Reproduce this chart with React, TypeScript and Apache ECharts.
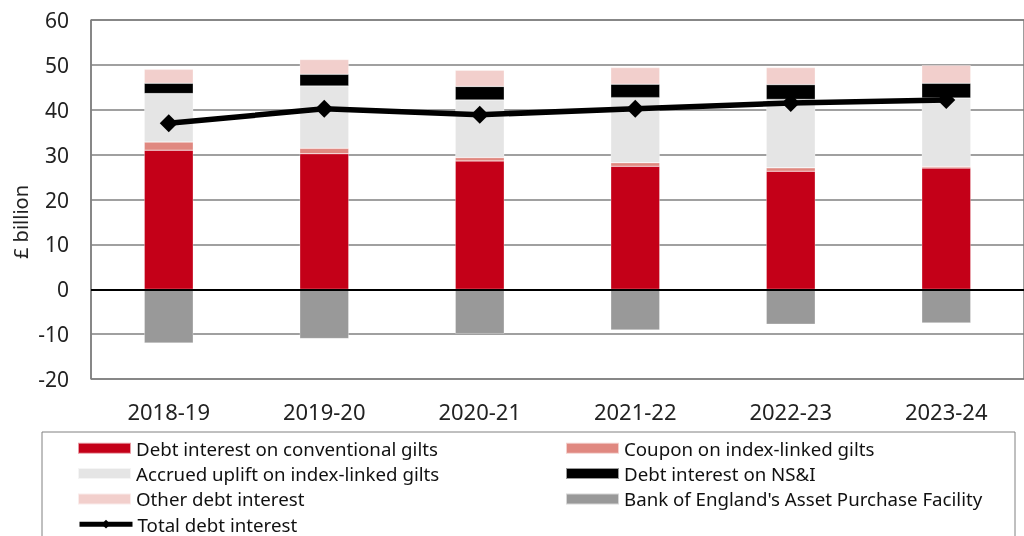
import React, { useEffect, useRef } from "react";
import * as echarts from "echarts";

const categories = ["2018-19", "2019-20", "2020-21", "2021-22", "2022-23", "2023-24"];
const conventional = [31.0, 30.2, 28.6, 27.4, 26.3, 27.0];
const coupon = [1.8, 1.2, 0.75, 0.8, 0.75, 0.35];
const accrued = [10.8, 13.9, 12.85, 14.5, 15.25, 15.25];
const nsi = [2.3, 2.6, 3.0, 3.0, 3.3, 3.3];
const other = [3.1, 3.3, 3.6, 3.7, 3.8, 4.0];
const apf = [-12.0, -11.0, -9.9, -9.1, -7.8, -7.5];
const total = [37.0, 40.2, 38.9, 40.2, 41.5, 42.2];
const yTicks = { min: -20, max: 60, interval: 10 };

const FONT = "Noto Sans";

export default function App() {
  const ref = useRef<HTMLDivElement>(null);
  useEffect(() => {
    if (!ref.current) return;
    const chart = echarts.init(ref.current, null, { renderer: "svg" });
    const bar = (name: string, data: number[], color: string, extra: any = {}) => ({
      name,
      type: "bar",
      stack: "a",
      data,
      barWidth: 49,
      itemStyle: { color, borderColor: "rgba(255,255,255,0.6)", borderWidth: 0.5 },
      ...extra,
    });
    const legendBase = {
      orient: "vertical",
      padding: 0,
      itemWidth: 53,
      itemHeight: 11,
      itemGap: 5.3,
      textStyle: { fontFamily: FONT, fontSize: 18.7, color: "#111", lineHeight: 20 },
    };
    chart.setOption({
      animation: false,
      textStyle: { fontFamily: FONT },
      grid: {
        left: 91,
        top: 20,
        width: 945,
        height: 359,
        show: true,
        borderColor: "#3a3a3a",
        borderWidth: 1,
        containLabel: false,
      },
      xAxis: {
        type: "category",
        data: categories,
        axisTick: { show: false },
        axisLine: { show: false },
        axisLabel: { fontFamily: FONT, fontSize: 22, color: "#222", margin: 21 },
      },
      yAxis: {
        type: "value",
        min: yTicks.min,
        max: yTicks.max,
        interval: yTicks.interval,
        axisLine: { show: true, lineStyle: { color: "#808080", width: 1.5 } },
        axisTick: { show: false },
        axisLabel: { fontFamily: FONT, fontSize: 21, color: "#222", margin: 22 },
        splitLine: { show: true, lineStyle: { color: "#808080", width: 1.5 } },
      },
      legend: [
        {
          ...legendBase,
          left: 77,
          top: 438.3,
          icon: "rect",
          data: [
            "Debt interest on conventional gilts",
            "Accrued uplift on index-linked gilts",
            "Other debt interest",
          ],
        },
        {
          ...legendBase,
          left: 77,
          top: 438.3 + 3 * 25.3,
          lineStyle: { width: 5 },
          data: ["Total debt interest"],
        },
        {
          ...legendBase,
          left: 565,
          top: 438.3,
          icon: "rect",
          data: [
            "Coupon on index-linked gilts",
            "Debt interest on NS&I",
            "Bank of England's Asset Purchase Facility",
          ],
        },
      ],
      graphic: [
        {
          type: "rect",
          shape: { x: 42, y: 432, width: 973, height: 120 },
          style: { fill: "none", stroke: "#808080", lineWidth: 1 },
          silent: true,
        },
        {
          type: "text",
          x: 20,
          y: 222,
          rotation: Math.PI / 2,
          style: {
            text: "£ billion",
            font: `20px '${FONT}'`,
            fill: "#222",
            align: "center",
            verticalAlign: "middle",
          },
        },
      ],
      series: [
        bar("Debt interest on conventional gilts", conventional, "#C40018", {
          markLine: {
            silent: true,
            symbol: "none",
            label: { show: false },
            lineStyle: { color: "#000", width: 2, type: "solid" },
            data: [{ yAxis: 0 }],
          },
        }),
        bar("Coupon on index-linked gilts", coupon, "#E08880"),
        bar("Accrued uplift on index-linked gilts", accrued, "#E5E5E5"),
        bar("Debt interest on NS&I", nsi, "#000000"),
        bar("Other debt interest", other, "#F2CFCC"),
        bar("Bank of England's Asset Purchase Facility", apf, "#999999"),
        {
          name: "Total debt interest",
          type: "line",
          data: total,
          symbol: "diamond",
          symbolSize: 18,
          lineStyle: { color: "#000", width: 5.5 },
          itemStyle: { color: "#000" },
          z: 10,
        },
      ],
    });
    return () => chart.dispose();
  }, []);
  return (
    <div
      ref={ref}
      style={{ position: "fixed", left: 0, top: 0, width: 1024, height: 536 }}
    />
  );
}
